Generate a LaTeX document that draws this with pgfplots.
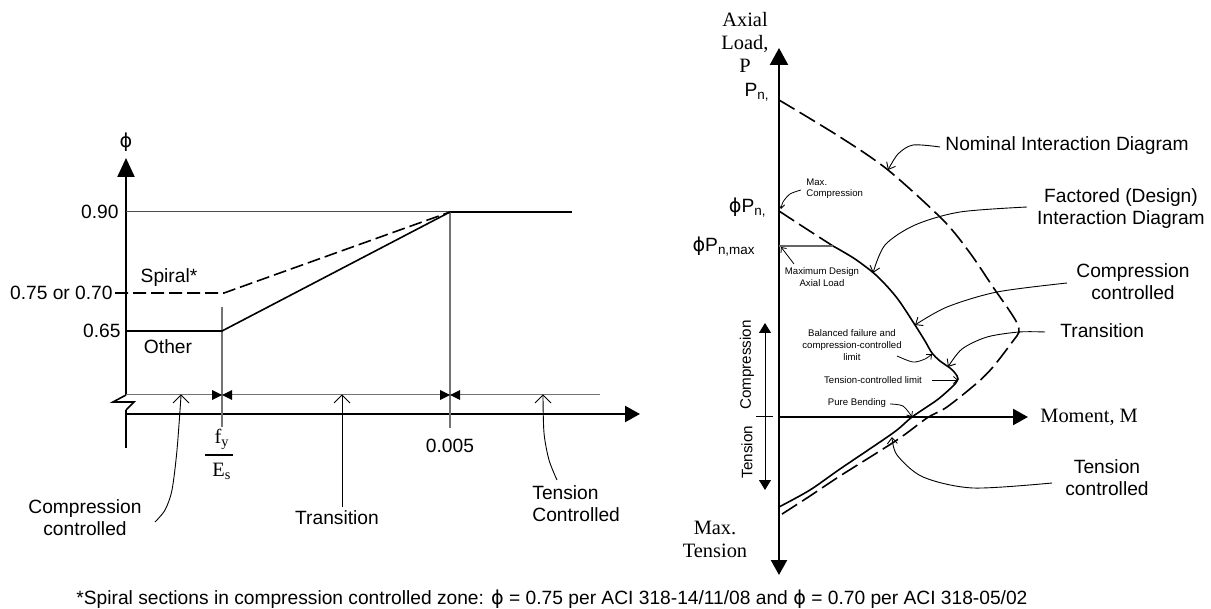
\documentclass[border=0pt]{standalone}
\usepackage{fontspec}
\setmainfont{Liberation Sans}
\newfontfamily\serif{Liberation Serif}
\newfontfamily\dv{DejaVu Sans}
\newcommand\ph{{\dv\char"03D5}}
\usepackage{pgfplots}
\pgfplotsset{compat=1.18}
\usetikzlibrary{arrows.meta}

\begin{document}
\begin{tikzpicture}[
  lab/.style={font=\fontsize{9.6}{11}\selectfont, inner sep=0pt, align=center},
  sm/.style={font=\fontsize{4.8}{5.8}\selectfont, inner sep=0pt, align=center},
  ser/.style={font=\serif\fontsize{10.2}{11.5}\selectfont, inner sep=0pt, align=center},
]
\begin{axis}[
  scale only axis, width=605.5pt, height=304.5pt,
  xmin=0, xmax=1211, ymin=0, ymax=609, y dir=reverse,
  hide axis, clip=false,
]
\draw[draw=none] (rel axis cs:0,0) rectangle (rel axis cs:1,1);

% ---------- left: phi vs strain ----------
\addplot[black, line width=1.15pt, -{Triangle[length=9.5pt,width=8.5pt]}] coordinates {(126,395) (126,158)};
\addplot[black, line width=0.8pt] coordinates {(126,395) (113,402) (134,402) (126,410)};
\addplot[black, line width=1.15pt] coordinates {(126,410) (126,448)};
\addplot[black, line width=1.15pt, -{Triangle[length=7.5pt,width=8pt]}] coordinates {(126,414) (640,414)};

\addplot[black!55, line width=0.5pt] coordinates {(126,395) (600,395)};
\addplot[black!70, line width=0.5pt] coordinates {(126,212) (450,212)};
\addplot[black, line width=0.8pt] coordinates {(450,212) (572,212)};
\addplot[black!55, line width=0.6pt] coordinates {(222,307) (222,427)};
\addplot[black!55, line width=0.6pt] coordinates {(450,212) (450,428)};

% Other and Spiral
\addplot[black, line width=0.8pt] coordinates {(126,331) (222,331) (450,212)};
\addplot[black, line width=0.8pt, dash pattern=on 6.5pt off 2.5pt] coordinates {(115,293) (224,293) (450,212)};

% bow-tie marks on the dimension line
\addplot[fill=black, draw=none] coordinates {(212,390) (222,395) (212,400)};
\addplot[fill=black, draw=none] coordinates {(232,390) (222,395) (232,400)};
\addplot[fill=black, draw=none] coordinates {(440,390) (450,395) (440,400)};
\addplot[fill=black, draw=none] coordinates {(460,390) (450,395) (460,400)};

% leaders from the zones
\addplot[black, line width=0.45pt] coordinates {(173,403) (181,395) (189,403)};
\addplot[black, line width=0.45pt] coordinates {(334,403) (342,395) (350,403)};
\addplot[black, line width=0.45pt] coordinates {(535,403) (543,395) (551,403)};
\addplot[black, line width=0.45pt, smooth] coordinates {(181,396) (177,450) (172,490) (165,510) (155,522)};
\addplot[black, line width=0.45pt] coordinates {(342,396) (342,507)};
\addplot[black, line width=0.45pt, smooth] coordinates {(543,396) (544,433) (549,460) (557,480)};
\addplot[black, line width=1pt] coordinates {(205,455) (233,455)};

\node[lab] at (axis cs:126,142) {\ph};
\node[lab, anchor=east] at (axis cs:119,212) {0.90};
\node[lab, anchor=east] at (axis cs:113,293) {0.75 or 0.70};
\node[lab, anchor=east] at (axis cs:121,331) {0.65};
\node[lab] at (axis cs:169,278) {Spiral*};
\node[lab] at (axis cs:168,347) {Other};
\node[ser] at (axis cs:222,439) {f\textsubscript{y}};
\node[ser] at (axis cs:222,471) {E\textsubscript{s}};
\node[lab] at (axis cs:450,446) {0.005};
\node[lab] at (axis cs:85,518) {Compression\\controlled};
\node[lab] at (axis cs:337,518) {Transition};
\node[lab, align=left, anchor=west] at (axis cs:532,503.5) {Tension\\Controlled};

% ---------- right: interaction diagram ----------
\addplot[black, line width=1.15pt, {Triangle[length=7.5pt,width=8pt]}-{Triangle[length=8.5pt,width=9pt]}] coordinates {(779,575) (779,48)};
\addplot[black, line width=1.15pt, -{Triangle[length=7.5pt,width=8pt]}] coordinates {(779,417) (1028,417)};

% nominal (dashed)
\addplot[black, line width=0.8pt, dash pattern=on 9pt off 3pt, smooth, tension=0.5] coordinates {
  (779,100) (840,137) (888,170) (943,220) (970,253) (993,287) (1009,310) (1017,323) (1019,332)
  (1013,341) (993,367) (977,383) (947,407) (927,418) (897,440) (840,476) (810,496) (779,516)};

% factored (design)
\addplot[black, line width=0.8pt, dash pattern=on 9pt off 3pt, smooth] coordinates {(779,211) (805,228) (833,246)};
\addplot[black, line width=0.8pt, smooth, tension=0.5] coordinates {
  (833,246) (855,259) (877,276) (897,298) (915,325) (925,341) (932,353) (940,361) (950,368)
  (955,373) (958,379) (953,386) (937,400) (912,417) (893,433) (840,469) (810,490) (779,507)};

\addplot[black!60, line width=0.6pt] coordinates {(779,246) (833,246)};

% compression / tension double arrow
\addplot[black, line width=0.5pt, {Triangle[length=5pt,width=6pt]}-{Triangle[length=5pt,width=6pt]}] coordinates {(765,490) (765,323)};
\addplot[black, line width=0.5pt] coordinates {(756,417) (773,417)};

% annotation leaders
\addplot[black, line width=0.45pt, smooth, -{Straight Barb[length=3pt,width=5pt]}] coordinates {(940,147) (913,145) (898,154) (888,170)};
\addplot[black, line width=0.45pt, smooth, -{Straight Barb[length=3pt,width=5pt]}] coordinates {(1027,207) (960,212) (915,225) (885,245) (873,273)};
\addplot[black, line width=0.45pt, smooth, -{Straight Barb[length=3pt,width=5pt]}] coordinates {(1067,283) (997,292) (947,307) (915,325)};
\addplot[black, line width=0.45pt, smooth, -{Straight Barb[length=3pt,width=5pt]}] coordinates {(1045,332) (1019,332) (987,337) (962,349) (948,367)};
\addplot[black, line width=0.45pt, smooth, -{Straight Barb[length=3pt,width=5pt]}] coordinates {(1052,483) (973,488) (923,477) (897,455) (892,437)};
\addplot[black, line width=0.4pt, smooth, -{Straight Barb[length=2pt,width=3pt]}] coordinates {(801,190) (790,194) (783,202) (781,209)};
\addplot[black, line width=0.4pt, -{Straight Barb[length=2pt,width=3.5pt]}] coordinates {(794,264) (781,247)};
\addplot[black, line width=0.4pt, smooth, -{Straight Barb[length=2pt,width=3.5pt]}] coordinates {(897,356) (913,362) (925,359) (932,354)};
\addplot[black, line width=0.4pt, -{Straight Barb[length=2pt,width=3.5pt]}] coordinates {(932,380) (958,380)};
\addplot[black, line width=0.4pt, smooth, -{Straight Barb[length=2pt,width=3.5pt]}] coordinates {(890,404) (903,406) (912,417)};

\node[ser] at (axis cs:745,42) {Axial\\Load,\\P};
\node[lab, anchor=east] at (axis cs:770,92) {P\textsubscript{n,}};
\node[lab, anchor=east] at (axis cs:767,208) {\ph P\textsubscript{n,}};
\node[lab, anchor=east] at (axis cs:756,247) {\ph P\textsubscript{n,max}};
\node[sm, align=left, anchor=west] at (axis cs:806,188.5) {Max.\\Compression};
\node[sm] at (axis cs:822,277) {Maximum Design\\Axial Load};
\node[lab, anchor=west] at (axis cs:945,146) {Nominal Interaction Diagram};
\node[lab] at (axis cs:1121,208.5) {Factored (Design)\\Interaction Diagram};
\node[lab] at (axis cs:1133,282) {Compression\\controlled};
\node[lab, anchor=west] at (axis cs:1060,331) {Transition};
\node[lab] at (axis cs:1107,478) {Tension\\controlled};
\node[ser, anchor=west] at (axis cs:1040,417) {Moment, M};
\node[ser] at (axis cs:715,539) {Max.\\Tension};
\node[sm] at (axis cs:852,345) {Balanced failure and\\compression-controlled\\limit};
\node[sm] at (axis cs:873,380) {Tension-controlled limit};
\node[sm] at (axis cs:857,403) {Pure Bending};
\node[font=\fontsize{7.6}{9}\selectfont, inner sep=0pt, rotate=90] at (axis cs:747,365) {Compression};
\node[font=\fontsize{7.6}{9}\selectfont, inner sep=0pt, rotate=90] at (axis cs:747,452) {Tension};

\node[lab, anchor=west] at (axis cs:76,599) {*Spiral sections in compression controlled zone: \ph{} = 0.75 per ACI 318-14/11/08 and \ph{} = 0.70 per ACI 318-05/02};
\end{axis}
\end{tikzpicture}
\end{document}
